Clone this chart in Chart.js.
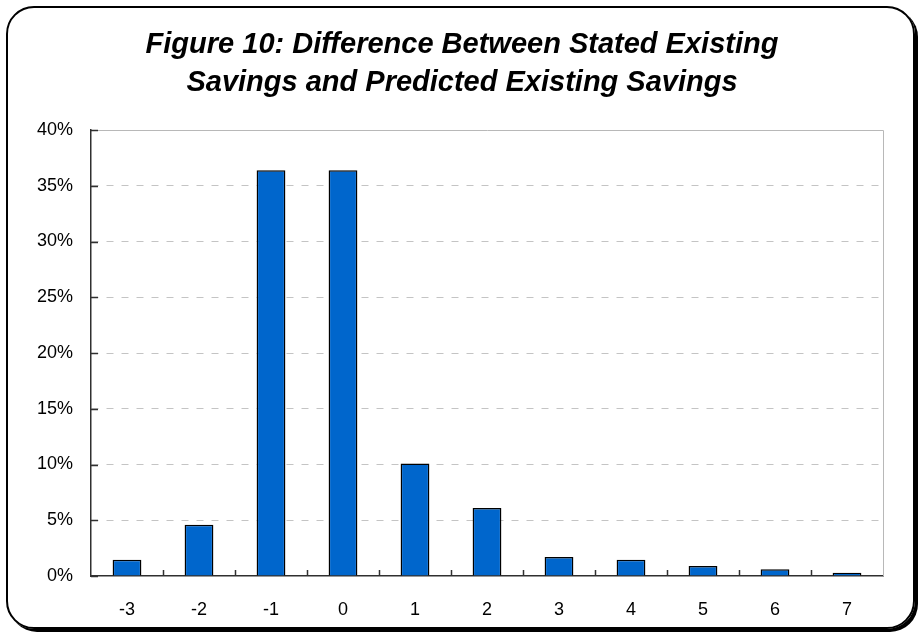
<!DOCTYPE html>
<html>
<head>
<meta charset="utf-8">
<script src="https://cdn.jsdelivr.net/npm/chart.js@4"></script>
<style>
  html, body { margin: 0; padding: 0; background: #fff; }
  #wrap { position: relative; width: 919px; height: 635px; }
  #frame {
    position: absolute; left: 6px; top: 6px; width: 905px; height: 619px;
    border: 2px solid #000; border-radius: 28px; box-shadow: 3px 3px 0 #000;
  }
  #chart { position: absolute; left: 0; top: 0; }
</style>
</head>
<body>
<div id="wrap">
  <div id="frame"></div>
  <canvas id="chart" width="919" height="635"></canvas>
</div>
<script>
// Difference categories and share of respondents (%)
const categories = ['-3', '-2', '-1', '0', '1', '2', '3', '4', '5', '6', '7'];
const shares = [1.45, 4.6, 36.4, 36.4, 10.1, 6.1, 1.7, 1.45, 0.9, 0.6, 0.3];
const titleLines = ['Figure 10: Difference Between Stated Existing', 'Savings and Predicted Existing Savings'];
const yMin = 0, yMax = 40, yStep = 5;

const FONT = "'Liberation Sans', Arial, Helvetica, sans-serif";

// Plot frame (top/right) plus inward-facing tick marks on both axes
const innerTicks = {
  id: 'innerTicks',
  afterDraw(chart) {
    const { ctx, chartArea: a, scales: { x, y } } = chart;
    ctx.save();
    ctx.strokeStyle = '#b8b8b8';
    ctx.lineWidth = 1;
    ctx.beginPath();
    ctx.moveTo(a.left + 1, Math.round(a.top) + 0.5);
    ctx.lineTo(Math.round(a.right) + 0.5, Math.round(a.top) + 0.5);
    ctx.lineTo(Math.round(a.right) + 0.5, a.bottom);
    ctx.stroke();

    ctx.strokeStyle = '#303030';
    ctx.lineWidth = 1.5;
    ctx.beginPath();
    y.ticks.forEach(t => {
      const py = Math.round(y.getPixelForValue(t.value)) + 0.5;
      ctx.moveTo(a.left, py);
      ctx.lineTo(a.left + 7, py);
    });
    for (let i = 0; i < categories.length - 1; i++) {
      const px = Math.round((x.getPixelForValue(i) + x.getPixelForValue(i + 1)) / 2) + 0.5;
      ctx.moveTo(px, a.bottom);
      ctx.lineTo(px, a.bottom - 6);
    }
    ctx.stroke();
    ctx.restore();
  }
};

new Chart(document.getElementById('chart'), {
  type: 'bar',
  data: {
    labels: categories,
    datasets: [{
      data: shares,
      backgroundColor: '#0066CC',
      borderColor: '#000000',
      borderWidth: 1.5,
      barPercentage: 0.4,
      categoryPercentage: 1.0
    }]
  },
  options: {
    responsive: false,
    animation: false,
    layout: { padding: { left: 5, right: 0, top: 0, bottom: 0 } },
    plugins: {
      legend: { display: false },
      tooltip: { enabled: false },
      title: {
        display: true,
        text: titleLines,
        color: '#000',
        font: { family: FONT, size: 29, weight: 'bold', style: 'italic', lineHeight: 1.3 },
        padding: { top: 26, bottom: 28.6 }
      }
    },
    scales: {
      x: {
        grid: { display: false },
        border: { display: true, color: '#303030', width: 1.5 },
        ticks: { color: '#000', font: { family: FONT, size: 18 }, padding: 15, maxRotation: 0 },
        afterFit(scale) { scale.height = 59; }
      },
      y: {
        min: yMin,
        max: yMax,
        grid: {
          drawTicks: false,
          lineWidth: 1,
          color: ctx => (ctx.tick && (ctx.tick.value === yMin || ctx.tick.value === yMax)) ? 'rgba(0,0,0,0)' : '#c4c4c4'
        },
        border: { display: true, color: '#303030', width: 1.5, dash: [7, 8] },
        ticks: {
          stepSize: yStep,
          color: '#000',
          font: { family: FONT, size: 18 },
          padding: 18,
          callback: v => v + '%'
        },
        afterFit(scale) { scale.width = 86; }
      },
      // empty right-hand spacer keeping the plot's right edge clear of the frame
      spacer: {
        type: 'linear',
        position: 'right',
        display: true,
        grid: { display: false, drawTicks: false },
        border: { display: false },
        ticks: { display: false },
        afterFit(scale) { scale.width = 36; }
      }
    }
  },
  plugins: [innerTicks]
});
</script>
</body>
</html>
